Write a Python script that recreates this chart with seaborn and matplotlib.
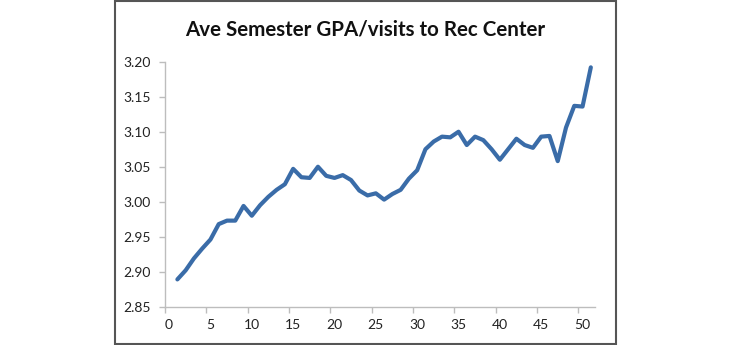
import matplotlib
matplotlib.use("Agg")
import matplotlib.pyplot as plt
import seaborn as sns
import pandas as pd
from matplotlib.patches import Rectangle
from matplotlib.ticker import FixedLocator, NullFormatter

# Visits to the Rec Center (x) and average semester GPA (y)
visits = list(range(1, 52))
gpa = [
    2.889, 2.902, 2.919, 2.933, 2.946, 2.968, 2.973, 2.973, 2.994, 2.980,
    2.995, 3.007, 3.017, 3.025, 3.047, 3.035, 3.034, 3.050, 3.037, 3.034,
    3.038, 3.031, 3.016, 3.009, 3.012, 3.003, 3.011, 3.017, 3.033, 3.045,
    3.075, 3.086, 3.093, 3.092, 3.100, 3.081, 3.093, 3.088, 3.075, 3.060,
    3.075, 3.090, 3.081, 3.077, 3.093, 3.094, 3.058, 3.106, 3.137, 3.136,
    3.192,
]
x_labels = [0, 5, 10, 15, 20, 25, 30, 35, 40, 45, 50]
y_ticks = [2.85, 2.90, 2.95, 3.00, 3.05, 3.10, 3.15, 3.20]
title = "Ave Semester GPA/visits to Rec Center"

df = pd.DataFrame({"visits": visits, "gpa": gpa})

sns.set_theme(style="white")
plt.rcParams["font.family"] = ["Lato", "DejaVu Sans"]

fig = plt.figure(figsize=(7.3, 3.45), dpi=100)
fig.patch.set_facecolor("white")
ax = fig.add_axes([0.226, 0.111, 0.589, 0.710])

sns.lineplot(data=df, x="visits", y="gpa", ax=ax, color="#3A6CA8",
             linewidth=3.0, solid_joinstyle="round", solid_capstyle="round")

axis_gray = "#BDBDBD"
ax.set_xlim(-0.5, 51.5)
ax.set_ylim(2.85, 3.20)

# category-style axis: labels centred on categories, tick marks between them
ax.set_xticks(x_labels)
ax.set_xticklabels([str(v) for v in x_labels])
ax.xaxis.set_minor_locator(FixedLocator([v - 0.5 for v in x_labels]))
ax.xaxis.set_minor_formatter(NullFormatter())
ax.tick_params(axis="x", which="major", length=0, pad=9, labelsize=10,
               labelcolor="#222222")
ax.tick_params(axis="x", which="minor", length=4, width=1.0, color=axis_gray,
               direction="out", bottom=True)

ax.set_yticks(y_ticks)
ax.set_yticklabels([f"{v:.2f}" for v in y_ticks])
ax.tick_params(axis="y", which="major", length=4, width=1.0, color=axis_gray,
               direction="out", left=True, pad=6, labelsize=10,
               labelcolor="#222222")

for side in ("top", "right"):
    ax.spines[side].set_visible(False)
for side in ("left", "bottom"):
    ax.spines[side].set_color(axis_gray)
    ax.spines[side].set_linewidth(1.0)

ax.set_xlabel("")
ax.set_ylabel("")
ax.grid(False)

fig.text(0.5, 0.915, title, ha="center", va="center", fontsize=14.8,
         fontweight="bold", color="#111111")

# chart frame
fig.patches.append(Rectangle((0.157, 0.004), 0.687, 0.993,
                             transform=fig.transFigure, fill=False,
                             edgecolor="#555555", linewidth=1.5))

fig.savefig("out.png", dpi=100, facecolor="white")
